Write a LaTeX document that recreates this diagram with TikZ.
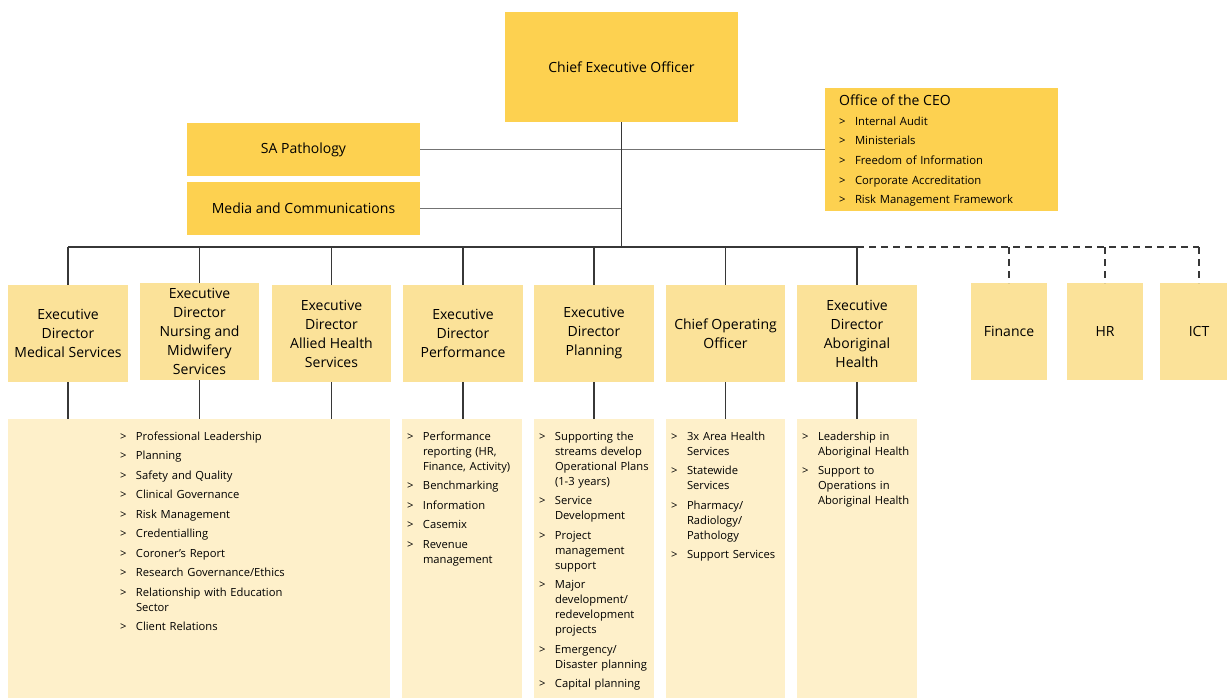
\documentclass[tikz,border=0pt]{standalone}
\usepackage{fontspec}
\setmainfont{Open Sans}
\definecolor{topY}{RGB}{253,209,80}
\definecolor{midY}{RGB}{251,226,153}
\definecolor{lowY}{RGB}{254,240,202}
\definecolor{lineC}{RGB}{55,55,55}
\newcommand{\itm}[1]{\noindent\hangindent=16pt\hangafter=1\makebox[16pt][l]{>}#1\par}
\begin{document}
\begin{tikzpicture}[x=1pt,y=-1pt,
  box/.style={draw=none, inner sep=0pt, outer sep=0pt, align=center},
  topbox/.style={box, fill=topY, font=\fontsize{14}{19}\selectfont},
  dir/.style={box, fill=midY, minimum width=120pt, minimum height=97pt, font=\fontsize{14}{19}\selectfont},
  low/.style={box, fill=lowY, minimum height=279pt},
  lst/.style={anchor=north west, inner sep=0pt, outer sep=0pt, text width=#1, align=left, font=\fontsize{11.2}{15}\selectfont\setlength{\parskip}{4.5pt}},
  conn/.style={draw=lineC, line width=1.1pt},
  side/.style={draw=black!55, line width=1.1pt},
  dashconn/.style={conn, dash pattern=on 7pt off 5pt}]
\useasboundingbox[fill=white] (0,0) rectangle (1227,699);

% top level
\node[topbox, minimum width=233pt, minimum height=110pt] (ceo) at (621.5,67) {Chief Executive Officer};
\node[topbox, minimum width=233pt, minimum height=53pt] (sa) at (303.5,149.5) {SA Pathology};
\node[topbox, minimum width=233pt, minimum height=53pt] (media) at (303.5,208.5) {Media and Communications};
\node[topbox, minimum width=233pt, minimum height=123pt] (office) at (941.5,149.5) {};
\node[anchor=base west, inner sep=0pt, font=\fontsize{14}{19}\selectfont] (officehead) at (839,105) {Office of the CEO};
\node[lst=210pt, font=\fontsize{11.3}{19.7}\selectfont\setlength{\parskip}{0pt}] (officelist) at (839,116.5) {%
\itm{Internal Audit}\itm{Ministerials}\itm{Freedom of Information}\itm{Corporate Accreditation}\itm{Risk Management Framework}};

% directors
\node[dir] (d1) at (68,333.5) {Executive\\Director\\Medical Services};
\node[dir, minimum width=119pt] (d2) at (199.5,331.5) {Executive\\Director\\Nursing and\\Midwifery\\Services};
\node[dir, minimum width=119pt] (d3) at (331.5,333.5) {Executive\\Director\\Allied Health\\Services};
\node[dir] (d4) at (463,333.5) {Executive\\Director\\Performance};
\node[dir] (d5) at (594,333.5) {Executive\\Director\\Planning};
\node[dir, minimum width=119pt] (d6) at (725.5,333.5) {Chief Operating\\Officer};
\node[dir] (d7) at (857,333.5) {Executive\\Director\\Aboriginal\\Health};
\node[dir, minimum width=76pt] (fin) at (1009,331.5) {Finance};
\node[dir, minimum width=76pt] (hr) at (1105,331.5) {HR};
\node[dir, minimum width=78pt] (ict) at (1199,331.5) {ICT};

% lower boxes
\node[low, minimum width=382pt] (big) at (199,558.5) {};
\node[low, minimum width=120pt] (perf) at (462,558.5) {};
\node[low, minimum width=120pt] (plan) at (594,558.5) {};
\node[low, minimum width=119pt] (coo) at (725.5,558.5) {};
\node[low, minimum width=120pt] (abor) at (857,558.5) {};

\node[lst=250pt] (bigl) at (120,431.5) {%
\itm{Professional Leadership}\itm{Planning}\itm{Safety and Quality}\itm{Clinical Governance}\itm{Risk Management}\itm{Credentialling}\itm{Coroner's Report}\itm{Research Governance/Ethics}\itm{Relationship with Education\newline Sector}\itm{Client Relations}};
\node[lst=130pt] (perfl) at (407,431.5) {%
\itm{Performance\newline reporting (HR,\newline Finance, Activity)}\itm{Benchmarking}\itm{Information}\itm{Casemix}\itm{Revenue\newline management}};
\node[lst=130pt] (planl) at (539,431.5) {%
\itm{Supporting the\newline streams develop\newline Operational Plans\newline (1-3 years)}\itm{Service\newline Development}\itm{Project\newline management\newline support}\itm{Major\newline development/\newline redevelopment\newline projects}\itm{Emergency/\newline Disaster planning}\itm{Capital planning}};
\node[lst=130pt] (cool) at (671,431.5) {%
\itm{3x Area Health\newline Services}\itm{Statewide\newline Services}\itm{Pharmacy/\newline Radiology/\newline Pathology}\itm{Support Services}};
\node[lst=130pt] (aborl) at (802,431.5) {%
\itm{Leadership in\newline Aboriginal Health}\itm{Support to\newline Operations in\newline Aboriginal Health}};

% connectors
\coordinate (bus) at (621.5,247);
\draw[side] (sa.east) -- (office.west);
\draw[side] (media.east) -- (media.east -| ceo.south);
\draw[conn] (ceo.south) -- (bus);
\draw[conn] (d1.north |- bus) -- (d7.north |- bus);
\foreach \n in {d1,d2,d3,d4,d5,d6,d7} \draw[conn] (\n.north |- bus) -- (\n.north);
\draw[dashconn] (d7.north |- bus) -- (ict.north |- bus);
\foreach \n in {fin,hr,ict} \draw[dashconn] (\n.north |- bus) -- (\n.north);
\foreach \n in {d1,d2,d3} \draw[conn] (\n.south) -- (\n.south |- big.north);
\draw[conn] (d4.south) -- (d4.south |- perf.north);
\draw[conn] (d5.south) -- (d5.south |- plan.north);
\draw[conn] (d6.south) -- (d6.south |- coo.north);
\draw[conn] (d7.south) -- (d7.south |- abor.north);
\end{tikzpicture}
\end{document}
